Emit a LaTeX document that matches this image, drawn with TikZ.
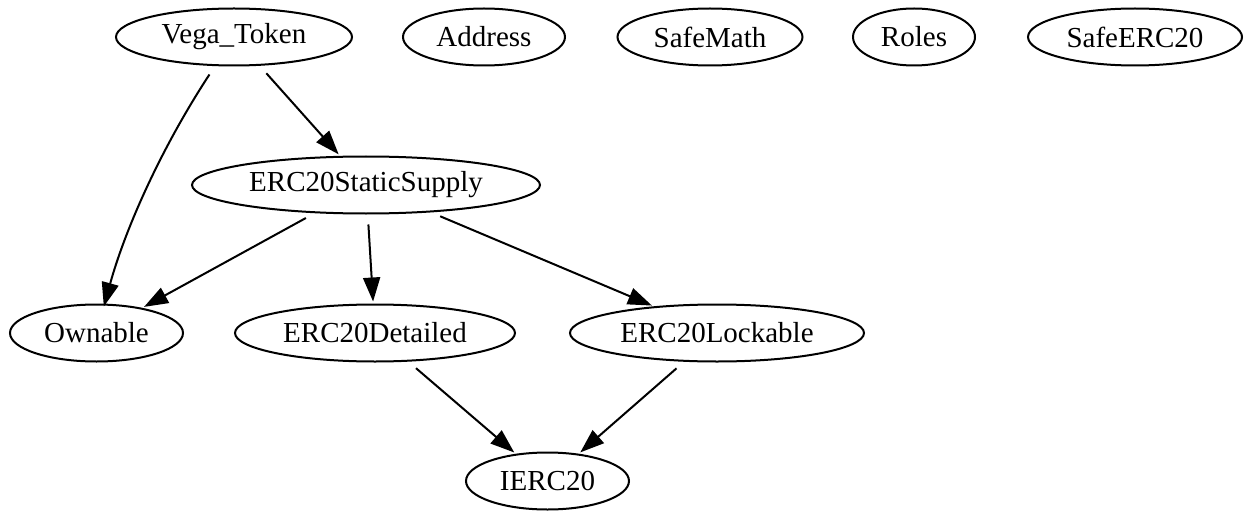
\documentclass[tikz,border=0pt]{standalone}
\usepackage{fontspec}
\setmainfont{Liberation Serif}
\usetikzlibrary{shapes.geometric,arrows.meta}
\begin{document}
\begin{tikzpicture}[x=1pt,y=-1pt,
  gnode/.style={draw, ellipse, line width=2pt, inner sep=0pt, minimum height=57pt,
    font=\fontsize{29}{34}\selectfont},
  gedge/.style={line width=2pt, -{Triangle[length=24pt,width=17pt]},
    shorten <=10pt, shorten >=2pt}]
\useasboundingbox (0,0) rectangle (1246,513);
% rank 1
\node[gnode, minimum width=236pt] (vega) at (234,37) {Vega\_Token};
\node[gnode, minimum width=162pt] (addr) at (484,37) {Address};
\node[gnode, minimum width=185pt] (safemath) at (710,37) {SafeMath};
\node[gnode, minimum width=122pt] (roles) at (914,37) {Roles};
\node[gnode, minimum width=214pt] (safeerc) at (1135,37) {SafeERC20};
% rank 2
\node[gnode, minimum width=348pt] (ess) at (366,185) {ERC20StaticSupply};
% rank 3
\node[gnode, minimum width=173pt] (own) at (96.5,333) {Ownable};
\node[gnode, minimum width=280pt] (det) at (375,333) {ERC20Detailed};
\node[gnode, minimum width=294pt] (lock) at (717,333) {ERC20Lockable};
% rank 4
\node[gnode, minimum width=163pt] (ierc) at (547.5,481) {IERC20};
% edges
\draw[gedge, shorten >=-3pt] (vega) .. controls (160,150) and (125,230) .. (own);
\draw[gedge] (vega) -- (ess);
\draw[gedge] (ess) -- (own);
\draw[gedge] (ess) -- (det);
\draw[gedge] (ess) -- (lock);
\draw[gedge] (det) -- (ierc);
\draw[gedge] (lock) -- (ierc);
\end{tikzpicture}
\end{document}
